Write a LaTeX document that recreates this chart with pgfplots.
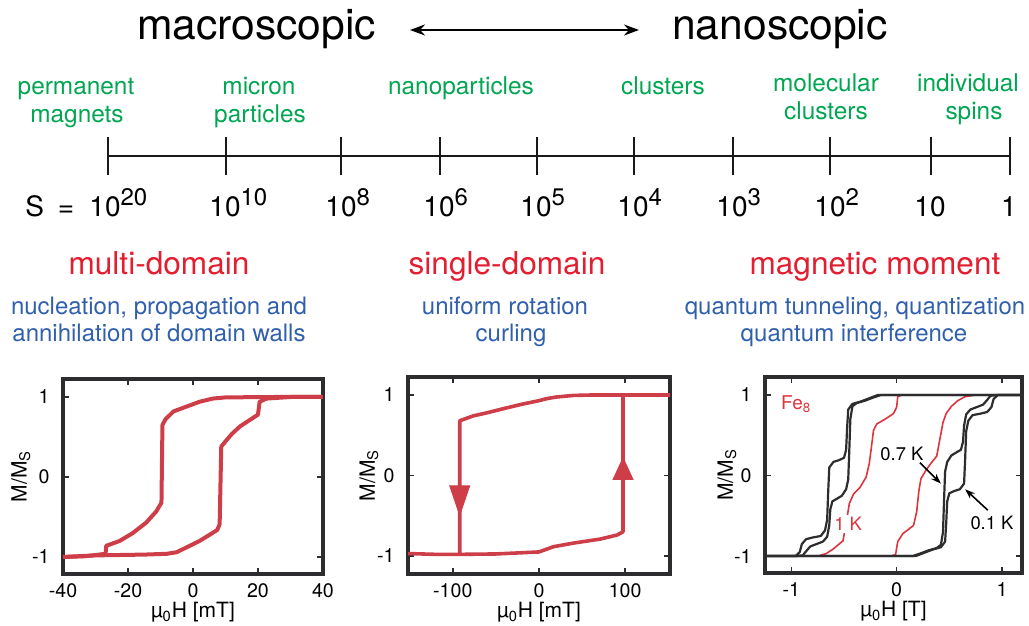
\documentclass[border=0pt]{standalone}
\usepackage{pgfplots}
\pgfplotsset{compat=1.18}
\usetikzlibrary{arrows.meta}
\usepackage{fontspec}
\setmainfont{TeX Gyre Heros}
\definecolor{lgreen}{RGB}{0,166,81}
\definecolor{tred}{RGB}{226,30,48}
\definecolor{tblue}{RGB}{48,96,172}
\definecolor{cred}{RGB}{206,62,72}
\definecolor{fred}{RGB}{222,52,62}
\definecolor{dk}{RGB}{45,45,48}
\newcommand{\fs}[1]{\fontsize{#1}{#1}\selectfont}
\newcommand{\tp}[2]{10\rlap{\raisebox{5.7pt}{\fs{12}#1}}}
\pgfplotsset{
  hyst/.style={
    scale only axis,
    axis line style={line width=1.6pt, draw=dk},
    tick style={line width=0.8pt, draw=dk},
    major tick length=3pt,
    tick align=inside,
    ytick={-1,0,1}, yticklabels={-1,0,1},
    tick label style={font=\fs{9.8}, text=black},
    xticklabel style={anchor=base, yshift=-12pt},
    yticklabel style={anchor=east, xshift=-3.2pt},
    ylabel={M/M\textsubscript{S}},
    label style={font=\fs{10.5}},
    xlabel style={at={(axis description cs:0.5,0)}, anchor=base, yshift=-22pt},
  },
}
\begin{document}
\begin{tikzpicture}
\useasboundingbox (0,0) rectangle (514.5pt,313pt);
% ---------------- overlay in pixel coordinates ----------------
\begin{axis}[at={(0pt,0pt)}, anchor=south west, scale only axis, width=514.5pt, height=313pt,
  xmin=0, xmax=1029, ymin=0, ymax=626, y dir=reverse, hide axis, clip=false]
  \addplot[black!90, line width=1.35pt, mark=|, mark size=9.5pt, mark options={line width=1.35pt}]
    coordinates {(108,156) (226,156) (341,156) (440,156) (537,156) (634,156) (733,156) (830,156) (931,156) (1010,156)};
  \addplot[black, line width=1pt, {Stealth[length=7.5pt,width=5.5pt]}-{Stealth[length=7.5pt,width=5.5pt]}]
    coordinates {(410,30) (639,30)};
  \node[anchor=base, font=\fs{21.3}] at (axis cs:256.5,40) {macroscopic};
  \node[anchor=base, font=\fs{21.3}] at (axis cs:780,40) {nanoscopic};
  % green categories
  \node[anchor=base, font=\fs{12.2}, text=lgreen] at (axis cs:76,95) {permanent};
  \node[anchor=base, font=\fs{12.2}, text=lgreen] at (axis cs:77,123) {magnets};
  \node[anchor=base, font=\fs{12.2}, text=lgreen] at (axis cs:259,95) {micron};
  \node[anchor=base, font=\fs{12.2}, text=lgreen] at (axis cs:260,123) {particles};
  \node[anchor=base, font=\fs{12.2}, text=lgreen] at (axis cs:461,95) {nanoparticles};
  \node[anchor=base, font=\fs{12.2}, text=lgreen] at (axis cs:663,95) {clusters};
  \node[anchor=base, font=\fs{12.2}, text=lgreen] at (axis cs:826,92) {molecular};
  \node[anchor=base, font=\fs{12.2}, text=lgreen] at (axis cs:826,120) {clusters};
  \node[anchor=base, font=\fs{12.2}, text=lgreen] at (axis cs:968,92) {individual};
  \node[anchor=base, font=\fs{12.2}, text=lgreen] at (axis cs:974,120) {spins};
  % scale labels
  \node[anchor=base west, inner sep=0pt, font=\fs{14}] at (axis cs:25,217) {S};
  \node[anchor=base, font=\fs{14}] at (axis cs:66,217) {=};
  \node[anchor=base, font=\fs{14}] at (axis cs:105,217) {\tp{20}{}};
  \node[anchor=base, font=\fs{14}] at (axis cs:225,217) {\tp{10}{}};
  \node[anchor=base, font=\fs{14}] at (axis cs:341,217) {\tp{8}{}};
  \node[anchor=base, font=\fs{14}] at (axis cs:439,217) {\tp{6}{}};
  \node[anchor=base, font=\fs{14}] at (axis cs:536,217) {\tp{5}{}};
  \node[anchor=base, font=\fs{14}] at (axis cs:633,217) {\tp{4}{}};
  \node[anchor=base, font=\fs{14}] at (axis cs:732,217) {\tp{3}{}};
  \node[anchor=base, font=\fs{14}] at (axis cs:830,217) {\tp{2}{}};
  \node[anchor=base, font=\fs{14}] at (axis cs:930,217) {10};
  \node[anchor=base, font=\fs{14}] at (axis cs:1009,217) {1};
  % headings
  \node[anchor=base, font=\fs{15.8}, text=tred] at (axis cs:159,275) {multi-domain};
  \node[anchor=base, font=\fs{15.8}, text=tred] at (axis cs:507,275) {single-domain};
  \node[anchor=base, font=\fs{15.8}, text=tred] at (axis cs:875,275) {magnetic moment};
  \node[anchor=base, font=\fs{12}, text=tblue] at (axis cs:159,315) {nucleation, propagation and};
  \node[anchor=base, font=\fs{12}, text=tblue] at (axis cs:159,342) {annihilation of domain walls};
  \node[anchor=base, font=\fs{12}, text=tblue] at (axis cs:505,315) {uniform rotation};
  \node[anchor=base, font=\fs{12}, text=tblue] at (axis cs:511,342) {curling};
  \node[anchor=base, font=\fs{12}, text=tblue] at (axis cs:855,315) {quantum tunneling, quantization};
  \node[anchor=base, font=\fs{12}, text=tblue] at (axis cs:854,342) {quantum interference};
\end{axis}
% ---------------- panel 1: multi-domain ----------------
\begin{axis}[hyst, at={(31.5pt,26pt)}, anchor=south west, width=130pt, height=97.5pt,
  xmin=-40, xmax=40, xtick={-40,-20,0,20,40}, xticklabels={-40,-20,0,20,40},
  ymin=-1.2125, ymax=1.225,
  xlabel={µ\textsubscript{0}H [mT]},
  ylabel style={at={(axis description cs:-0.162,0.5)}, anchor=center}]
\addplot[cred, line width=2pt, line join=round] coordinates {
 (40,1.0) (25,1.0) (10,0.995) (6,0.98) (2,0.94) (-2,0.88) (-6,0.82) (-8.5,0.72) (-9.4,0.65)
 (-9.7,-0.32) (-11.3,-0.43) (-14.4,-0.57) (-18.5,-0.70) (-22.6,-0.80) (-26.7,-0.86)
 (-26.9,-0.96) (-33,-0.99) (-40,-1.0)};
\addplot[cred, line width=2pt, line join=round] coordinates {
 (-40,-1.0) (-30,-0.98) (-15,-0.97) (-8,-0.96) (-5,-0.94) (-2,-0.88) (2,-0.80) (6,-0.70)
 (7.5,-0.66) (8.2,-0.59) (8.7,0.38) (10.3,0.46) (12,0.54) (14.4,0.63) (17,0.70) (20,0.78)
 (20.5,0.94) (22.6,0.98) (30,1.0) (40,1.0)};
\end{axis}
% ---------------- panel 2: single-domain ----------------
\begin{axis}[hyst, at={(204pt,26pt)}, anchor=south west, width=131pt, height=98.5pt,
  xmin=-152, xmax=152, xtick={-100,0,100}, xticklabels={-100,0,100},
  ymin=-1.224, ymax=1.224,
  xlabel={µ\textsubscript{0}H [mT]},
  ylabel style={at={(axis description cs:-0.149,0.5)}, anchor=center}]
\addplot[cred, line width=1.8pt, line join=round] coordinates {
 (152,1.0) (100,1.0) (60,1.0) (40,0.995) (20,0.975) (9,0.955) (0,0.93) (-20,0.885)
 (-37.7,0.84) (-60,0.78) (-76.5,0.74) (-92,0.68) (-92,-0.98)};
\addplot[cred, line width=1.8pt, line join=round] coordinates {
 (-152,-0.97) (-120,-0.98) (-92,-0.98) (-50,-0.975) (0,-0.95) (16.7,-0.885) (40,-0.84)
 (71,-0.79) (90.5,-0.74) (97.5,-0.70) (97.5,1.0)};
\addplot[only marks, mark=triangle*, mark size=5.8pt, mark options={cred, rotate=180, yscale=1.7}]
  coordinates {(-92,-0.25)};
\addplot[only marks, mark=triangle*, mark size=5.8pt, mark options={cred, yscale=1.25}]
  coordinates {(97.5,0.04)};
\end{axis}
% ---------------- panel 3: Fe8 ----------------
\begin{axis}[hyst, at={(382.5pt,26.5pt)}, anchor=south west, width=128.5pt, height=98pt,
  xmin=-1.25, xmax=1.19, xtick={-1,0,1}, xticklabels={-1,0,1},
  ymin=-1.21, ymax=1.224,
  xlabel={µ\textsubscript{0}H [T]},
  ylabel style={at={(axis description cs:-0.148,0.5)}, anchor=center}]
% 1 K (red)
\addplot[fred, line width=0.8pt, line join=round] coordinates {
 (-1.25,-1) (-0.05,-1) (-0.01,-0.98) (0.01,-0.82) (0.06,-0.72) (0.11,-0.67) (0.16,-0.62)
 (0.19,-0.45) (0.21,-0.20) (0.23,-0.04) (0.28,0.07) (0.33,0.16) (0.38,0.24) (0.41,0.45)
 (0.44,0.66) (0.47,0.77) (0.52,0.86) (0.58,0.93) (0.65,0.98) (0.75,1) (1.19,1)};
\addplot[fred, line width=0.8pt, line join=round] coordinates {
 (1.19,1) (0.05,1) (0.01,0.98) (0,0.85) (-0.03,0.77) (-0.11,0.70) (-0.19,0.64) (-0.22,0.56)
 (-0.24,0.35) (-0.26,0.15) (-0.29,-0.02) (-0.35,-0.15) (-0.41,-0.23) (-0.45,-0.35)
 (-0.48,-0.6) (-0.51,-0.81) (-0.6,-0.91) (-0.67,-0.97) (-0.75,-1) (-1.25,-1)};
% 0.7 K
\addplot[dk, line width=1.1pt, line join=round] coordinates {
 (-1.25,-1) (0.15,-1) (0.22,-0.97) (0.30,-0.93) (0.38,-0.90) (0.42,-0.86) (0.44,-0.70)
 (0.45,-0.30) (0.46,0.05) (0.48,0.17) (0.52,0.25) (0.57,0.29) (0.61,0.32) (0.63,0.42)
 (0.64,0.62) (0.66,0.76) (0.70,0.82) (0.76,0.85) (0.82,0.88) (0.86,0.94) (0.89,0.99)
 (0.95,1) (1.19,1)};
\addplot[dk, line width=1.1pt, line join=round] coordinates {
 (1.19,1) (-0.15,1) (-0.22,0.97) (-0.30,0.93) (-0.38,0.90) (-0.42,0.86) (-0.44,0.70)
 (-0.45,0.30) (-0.46,-0.05) (-0.48,-0.17) (-0.52,-0.25) (-0.57,-0.29) (-0.61,-0.32)
 (-0.63,-0.42) (-0.64,-0.62) (-0.66,-0.76) (-0.70,-0.82) (-0.76,-0.85) (-0.82,-0.88)
 (-0.86,-0.94) (-0.89,-0.99) (-0.95,-1) (-1.25,-1)};
% 0.1 K
\addplot[dk, line width=1.1pt, line join=round] coordinates {
 (-1.25,-1) (0.18,-1) (0.26,-0.96) (0.34,-0.92) (0.42,-0.89) (0.46,-0.82) (0.47,-0.60)
 (0.48,-0.32) (0.50,-0.22) (0.55,-0.19) (0.60,-0.17) (0.64,-0.10) (0.65,0.20) (0.66,0.55)
 (0.68,0.68) (0.72,0.75) (0.80,0.77) (0.86,0.79) (0.90,0.85) (0.92,0.95) (0.96,1) (1.19,1)};
\addplot[dk, line width=1.1pt, line join=round] coordinates {
 (1.19,1) (-0.18,1) (-0.26,0.96) (-0.34,0.92) (-0.42,0.89) (-0.46,0.82) (-0.47,0.60)
 (-0.48,0.32) (-0.50,0.22) (-0.55,0.19) (-0.60,0.17) (-0.64,0.10) (-0.65,-0.20) (-0.66,-0.55)
 (-0.68,-0.68) (-0.72,-0.75) (-0.80,-0.77) (-0.86,-0.79) (-0.90,-0.85) (-0.92,-0.95)
 (-0.96,-1) (-1.25,-1)};
\node[anchor=west, inner sep=0pt, font=\fs{9.5}, text=fred] at (axis cs:-1.10,0.89) {Fe\textsubscript{8}};
\node[font=\fs{9.2}, text=black, fill=white, inner sep=1pt] at (axis cs:0.05,0.27) {0.7 K};
\node[font=\fs{9.2}, text=black, fill=white, inner sep=1pt] at (axis cs:0.905,-0.59) {0.1 K};
\node[font=\fs{9.2}, text=fred, fill=white, inner sep=1pt] at (axis cs:-0.46,-0.60) {1 K};
\draw[black, line width=0.8pt, -{Stealth[length=5pt,width=3.5pt]}] (axis cs:0.22,0.16) -- (axis cs:0.42,-0.10);
\draw[black, line width=0.8pt, -{Stealth[length=5pt,width=3.5pt]}] (axis cs:0.865,-0.43) -- (axis cs:0.65,-0.17);
\end{axis}
\end{tikzpicture}
\end{document}
